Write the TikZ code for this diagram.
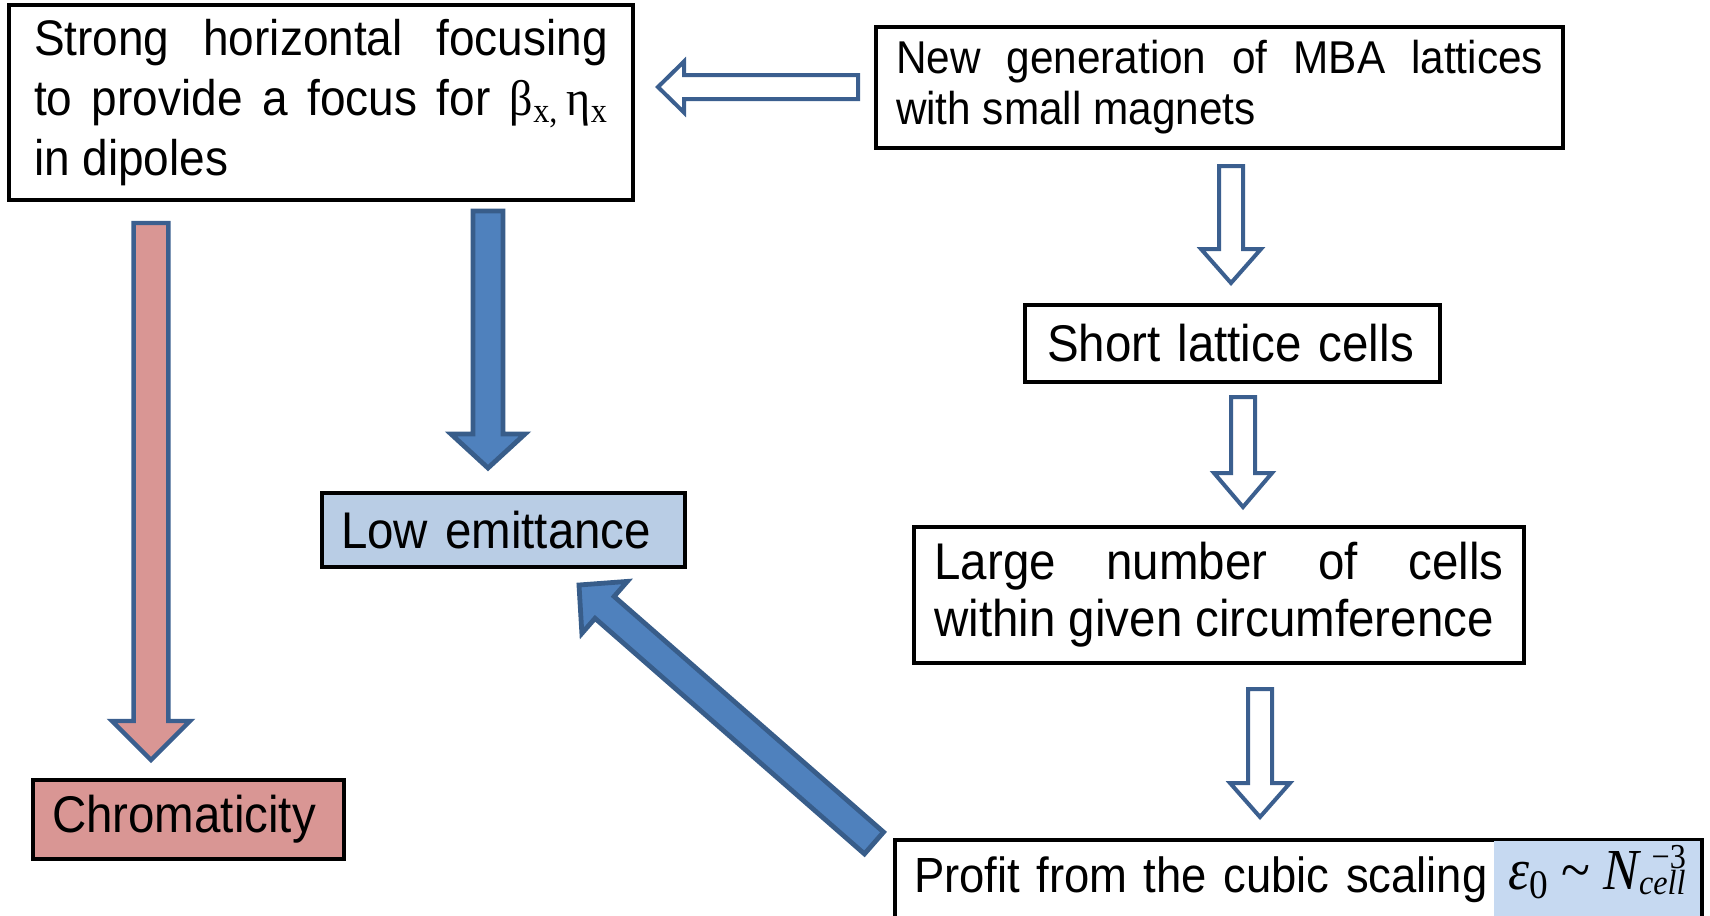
\documentclass[tikz,border=0pt]{standalone}
\usepackage{fontspec}
\newfontfamily\cond{Liberation Sans}[FakeStretch=0.92]
\newfontfamily\tnr{Liberation Serif}[FakeStretch=0.92]
\usetikzlibrary{calc}
\definecolor{arrowline}{HTML}{3B5F8F}
\definecolor{bluefill}{HTML}{4F81BD}
\definecolor{blueline}{HTML}{385D8A}
\definecolor{redfill}{HTML}{D99694}
\definecolor{lowfill}{HTML}{B9CDE5}
\definecolor{lawfill}{HTML}{C6D9F1}
% block arrow: style, tail, tip, shaft half width, head half width, head length
\newcommand\blockarrow[6]{%
  \coordinate (neck) at ($(#3)!#6!(#2)$);
  \draw[#1] ($(#2)!#4!90:(#3)$) -- ($(neck)!#4!90:(#3)$) -- ($(neck)!#5!90:(#3)$) -- (#3)
    -- ($(neck)!#5!-90:(#3)$) -- ($(neck)!#4!-90:(#3)$) -- ($(#2)!#4!-90:(#3)$) -- cycle;}
\tikzset{
  box/.style={draw, line width=1.7pt, fill=white, inner ysep=0pt},
  hollow/.style={draw=arrowline, line width=2pt, fill=white},
  bluearrow/.style={draw=blueline, line width=2.4pt, fill=bluefill},
  redarrow/.style={draw=arrowline, line width=2.2pt, fill=redfill}
}

\begin{document}
\begin{tikzpicture}[x=0.5pt,y=-0.5pt]
    \useasboundingbox (0,0) rectangle (1710,916);
    \clip (0,0) rectangle (1710,916);
    % Draw the boxes
    \node[box, text width=287pt, inner xsep=12.5pt, minimum height=97.5pt, align=justify,
      font={\cond\fontsize{25}{30}\selectfont}] (focus) at (321,102.5)
      {Strong horizontal focusing to provide a focus for {\tnr β\textsubscript{x,}\,η\textsubscript{x}}\linebreak in dipoles};
    \node[box, text width=323.5pt, inner xsep=10pt, minimum height=60.5pt, align=justify,
      font={\cond\fontsize{23}{25.5}\selectfont}] (newgen) at (1219.5,87.5)
      {New generation of MBA lattices with small magnets};
    \node[box, text width=185.5pt, inner xsep=11pt, minimum height=38.5pt, align=left,
      font={\cond\fontsize{25.8}{28.5}\selectfont}] (short) at (1232.5,343.5) {Short lattice cells};
    \node[box, text width=284.5pt, inner xsep=10.25pt, minimum height=68pt, align=justify,
      font={\cond\fontsize{25.8}{28.5}\selectfont}] (large) at (1219,595)
      {Large number of cells\linebreak within given circumference};
    \node[box, text width=384.5pt, inner xsep=9.5pt, minimum height=40pt, align=left,
      font={\cond\fontsize{24.7}{28.5}\selectfont}] (profit) at (1298.5,880) {Profit from the cubic scaling};
    \node[fill=lawfill, minimum width=103pt, text height=24pt, text depth=14.5pt, inner sep=0pt,
      font={\tnr\fontsize{29}{29}\selectfont}] (law) at (1597,879.5)
      {\itshape ε\textsubscript{\upshape 0}\hspace{0.22em}\upshape\textasciitilde\hspace{0.22em}\itshape N\raisebox{-2.5pt}{\fontsize{17.5}{17.5}\selectfont\rlap{\raisebox{13pt}{\hspace{0.36em}\upshape −3}}cell}};
    \node[box, fill=lowfill, text width=162.5pt, inner xsep=9.5pt, minimum height=37pt, align=left,
      font={\cond\fontsize{25.8}{28.5}\selectfont}] (low) at (503.5,530) {Low emittance};
    \node[box, fill=redfill, text width=136.5pt, inner xsep=9.5pt, minimum height=39.5pt, align=left,
      font={\cond\fontsize{25.8}{28.5}\selectfont}] (chrom) at (188.5,819.5) {Chromaticity};
    % Arrow ends
    \coordinate (gen-out) at (858,87);
    \coordinate (focus-in) at (658,87);
    \coordinate (gen-down) at (1231,166);
    \coordinate (short-in) at (1231,283);
    \coordinate (short-out) at (1243,397);
    \coordinate (large-in) at (1243,507);
    \coordinate (large-out) at (1260,689);
    \coordinate (profit-in) at (1260,817);
    \coordinate (focus-red) at (151,223);
    \coordinate (chrom-in) at (151,760);
    \coordinate (focus-blue) at (488,211);
    \coordinate (low-in) at (488,468);
    \coordinate (profit-out) at (874,843);
    \coordinate (low-up) at (579,585);
    % Draw the hollow arrows
    \foreach \t/\h/\w/\l in {gen-out/focus-in/12.75pt/13pt, gen-down/short-in/15pt/17pt,
      short-out/large-in/14.5pt/17pt, large-out/profit-in/15pt/17pt}{
      \blockarrow{hollow}{\t}{\h}{6pt}{\w}{\l}
    }
    % Draw the filled arrows
    \blockarrow{redarrow}{focus-red}{chrom-in}{8.7pt}{19.5pt}{19.5pt}
    \blockarrow{bluearrow}{focus-blue}{low-in}{7.5pt}{18.5pt}{17pt}
    \blockarrow{bluearrow}{profit-out}{low-up}{7.25pt}{17.25pt}{17pt}
\end{tikzpicture}
\end{document}
